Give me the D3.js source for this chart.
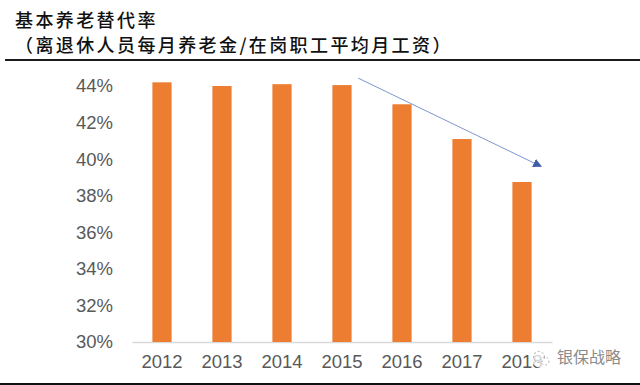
<!DOCTYPE html>
<html>
<head>
<meta charset="utf-8">
<script src="https://cdn.jsdelivr.net/npm/d3@7"></script>
<style>
  html, body { margin: 0; padding: 0; background: #fff; }
  svg { display: block; }
  .tick text { font-family: "Liberation Sans", Arial, sans-serif; font-size: 18.5px; fill: #595959; }
  .title { font-family: "Noto Sans CJK SC", sans-serif; font-size: 18px; font-weight: 500; letter-spacing: 2.4px; fill: #111; }
</style>
</head>
<body>
<div class="chart"></div>
<script>
var years = [2012, 2013, 2014, 2015, 2016, 2017, 2018];
var rates = [44.2, 44.0, 44.1, 44.05, 43.0, 41.1, 38.75];
var yTicks = [30, 32, 34, 36, 38, 40, 42, 44];
var titleLines = ["基本养老替代率", "（离退休人员每月养老金/在岗职工平均月工资）"];
var trendYears = [2015.27, 2018.32];
var trendValues = [44.43, 39.6];
var watermark = "银保战略";

var baseWidth = 640,
  baseHeight = 385;
var margin = {
    top: 86,
    right: 88,
    bottom: 43,
    left: 132
  },
  width = baseWidth - margin.left - margin.right,
  height = baseHeight - margin.top - margin.bottom;

var svg = d3.select(".chart")
  .append("svg")
  .attr("width", baseWidth)
  .attr("height", baseHeight);

svg.append("rect")
  .attr("width", baseWidth)
  .attr("height", baseHeight)
  .attr("fill", "#fff");

// title block and the two black rules
svg.selectAll(".title")
  .data(titleLines)
  .enter().append("text")
  .attr("class", "title")
  .attr("x", 15)
  .attr("y", function(d, i) {
    return i === 0 ? 27 : 52;
  })
  .text(function(d) {
    return d;
  });

svg.append("line")
  .attr("x1", 5)
  .attr("x2", baseWidth)
  .attr("y1", 60)
  .attr("y2", 60)
  .attr("stroke", "#1a1a1a")
  .attr("stroke-width", 2);

svg.append("line")
  .attr("x1", 0)
  .attr("x2", baseWidth)
  .attr("y1", 384)
  .attr("y2", 384)
  .attr("stroke", "#111")
  .attr("stroke-width", 2);

var x = d3.scaleBand()
  .domain(years)
  .range([0, width])
  .paddingInner(0.68)
  .paddingOuter(0.34);

var y = d3.scaleLinear()
  .domain([30, 44])
  .range([height, 0]);

var yearToX = d3.scaleLinear()
  .domain([2012, 2018])
  .range([x(2012) + x.bandwidth() / 2, x(2018) + x.bandwidth() / 2]);

var chart = svg.append("g")
  .attr("transform", "translate(" + margin.left + "," + margin.top + ")");

var xAxis = d3.axisBottom(x).tickSize(0).tickPadding(13);
var yAxis = d3.axisLeft(y).tickValues(yTicks).tickSize(0).tickPadding(19).tickFormat(function(d) {
  return d + "%";
});

chart.append("g")
  .attr("class", "x axis")
  .attr("transform", "translate(0," + height + ")")
  .call(xAxis)
  .select(".domain")
  .attr("stroke", "#d9d9d9")
  .attr("stroke-width", 1.5);

chart.append("g")
  .attr("class", "y axis")
  .call(yAxis)
  .select(".domain")
  .remove();

chart.selectAll(".bar")
  .data(rates)
  .enter().append("rect")
  .attr("class", "bar")
  .attr("x", function(d, i) {
    return x(years[i]);
  })
  .attr("y", function(d) {
    return y(d);
  })
  .attr("height", function(d) {
    return height - y(d);
  })
  .attr("width", x.bandwidth())
  .attr("fill", "#ed7d31");

// trend arrow
svg.append("defs").append("marker")
  .attr("id", "arrow")
  .attr("viewBox", "0 0 10 10")
  .attr("refX", 9)
  .attr("refY", 5)
  .attr("markerWidth", 9)
  .attr("markerHeight", 9)
  .attr("markerUnits", "userSpaceOnUse")
  .attr("orient", "auto")
  .append("path")
  .attr("d", "M0,0L10,5L0,10Z")
  .attr("fill", "#3f5fa8");

chart.append("line")
  .attr("x1", yearToX(trendYears[0]))
  .attr("y1", y(trendValues[0]))
  .attr("x2", yearToX(trendYears[1]))
  .attr("y2", y(trendValues[1]))
  .attr("stroke", "#7f95cc")
  .attr("stroke-width", 1)
  .attr("marker-end", "url(#arrow)");

// watermark over the last year label
var mark = svg.append("g")
  .attr("transform", "translate(541,358)");

mark.append("circle")
  .attr("r", 10)
  .attr("fill", "#fff")
  .attr("fill-opacity", 0.75);

mark.append("circle")
  .attr("cx", -2)
  .attr("cy", -1)
  .attr("r", 5.5)
  .attr("fill", "none")
  .attr("stroke", "#a8a8a8")
  .attr("stroke-dasharray", "2 2");

mark.append("circle")
  .attr("cx", 4)
  .attr("cy", 3)
  .attr("r", 4)
  .attr("fill", "none")
  .attr("stroke", "#b8b8b8")
  .attr("stroke-dasharray", "2 2");

svg.append("text")
  .attr("x", 557)
  .attr("y", 363)
  .attr("font-family", "Noto Sans CJK SC, sans-serif")
  .attr("font-size", 16)
  .attr("fill", "#8a8a8a")
  .text(watermark);
</script>
</body>
</html>
